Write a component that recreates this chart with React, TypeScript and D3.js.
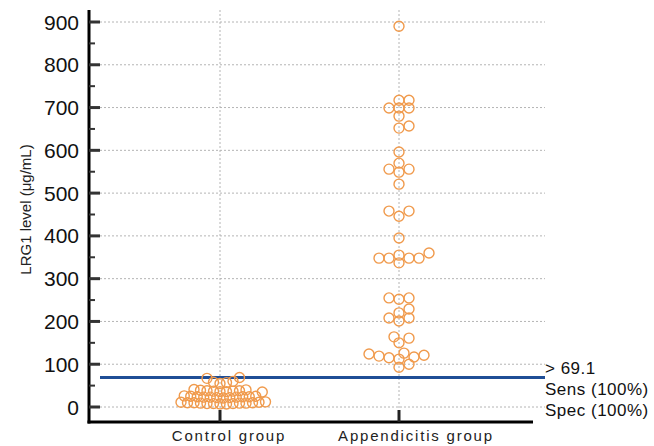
import React from 'react'
import * as d3 from 'd3'

const categories = ['Control group', 'Appendicitis group']

// LRG1 level (µg/mL)
const controlValues = [
  7, 7, 8, 8, 8, 9, 9, 9, 10, 10, 10, 11, 11, 12,
  21, 22, 22, 23, 23, 23, 24, 24, 24, 25, 25, 26,
  35, 36, 36, 37, 37, 38, 38, 39, 40, 41,
  55, 57, 58, 60, 67, 69,
]

const appendicitisValues = [
  93, 100, 112, 115, 117, 119, 121, 124, 126, 150, 161, 164,
  201, 208, 208, 220, 229, 252, 255, 255,
  337, 348, 348, 348, 348, 355, 360, 395, 446, 458, 458,
  521, 549, 556, 556, 570, 596, 652, 657, 680, 699, 699, 699, 717, 717, 890,
]

const yTicks = [0, 100, 200, 300, 400, 500, 600, 700, 800, 900]
const yMinorTicks = [50, 150, 250, 350, 450, 550, 650, 750, 850]

const cutoff = 69.1
const cutoffLabels = ['> 69.1', 'Sens (100%)', 'Spec (100%)']

const W = 654
const H = 446

// simple beeswarm: each point goes as close to the category centre as it can,
// trying offsets in steps of `step` px
function dodge(values: number[], cx: number, y: (v: number) => number, minDist: number, step: number) {
  const pts = values.map(v => ({ v, x: cx, y: y(v) })).sort((a, b) => a.v - b.v)
  const placed: { x: number; y: number }[] = []
  for (const p of pts) {
    for (let k = 0; k < 200; k++) {
      const off = k === 0 ? 0 : (k % 2 === 1 ? 1 : -1) * Math.ceil(k / 2) * step
      const x = cx + off
      const hit = placed.some(q => (q.x - x) ** 2 + (q.y - p.y) ** 2 < minDist * minDist - 0.01)
      if (!hit) {
        p.x = x
        break
      }
    }
    placed.push(p)
  }
  return pts
}

export default function App() {
  const left = 89
  const right = 545
  const bottom = 422
  const top = 10

  const y = d3.scaleLinear().domain([0, 900]).range([407, 22])
  const x = d3.scalePoint<string>().domain(categories).range([220, 399])

  const groups = [
    dodge(controlValues, x(categories[0])!, y, 6.5, 3.25),
    dodge(appendicitisValues, x(categories[1])!, y, 7.5, 5),
  ]

  const font = 'Arial, "Liberation Sans", sans-serif'

  return (
    <svg width={W} height={H} style={{ position: 'absolute', left: 0, top: 0, background: '#fff' }}>
      {/* horizontal grid */}
      {yTicks.map(t => (
        <line key={'g' + t} x1={left + 11} x2={right} y1={y(t)} y2={y(t)} stroke="#b4b4b4" strokeWidth={1} strokeDasharray="2,2" />
      ))}
      {/* vertical grid */}
      {categories.map(c => (
        <line key={'v' + c} x1={x(c)} x2={x(c)} y1={top} y2={bottom - 12} stroke="#b4b4b4" strokeWidth={1} strokeDasharray="2,2" />
      ))}

      {/* cut-off line */}
      <line x1={left + 11} x2={right} y1={y(cutoff)} y2={y(cutoff)} stroke="#1f4e96" strokeWidth={3} />

      {/* points */}
      {groups.map((pts, gi) =>
        pts.map((p, i) => (
          <circle key={gi + '-' + i} cx={p.x} cy={p.y} r={5} fill="none" stroke="#f09a4c" strokeWidth={1.4} />
        ))
      )}

      {/* y axis */}
      <line x1={left} x2={left} y1={top} y2={bottom + 1.5} stroke="#000" strokeWidth={3} />
      {yTicks.map(t => (
        <g key={'t' + t}>
          <line x1={left} x2={left + 11} y1={y(t)} y2={y(t)} stroke="#333" strokeWidth={3} />
          <text x={79} y={y(t)} dy="0.36em" textAnchor="end" fontFamily={font} fontSize={21} fill="#111">
            {t}
          </text>
        </g>
      ))}
      {yMinorTicks.map(t => (
        <line key={'m' + t} x1={left} x2={left + 6} y1={y(t)} y2={y(t)} stroke="#333" strokeWidth={2} />
      ))}
      <text
        transform={`translate(31, ${(y(0) + y(900)) / 2 - 5}) rotate(-90)`}
        textAnchor="middle"
        fontFamily={font}
        fontSize={15}
        fill="#222"
      >
        LRG1 level (μg/mL)
      </text>

      {/* x axis */}
      <line x1={left - 1.5} x2={right - 12} y1={bottom} y2={bottom} stroke="#000" strokeWidth={3} />
      {categories.map(c => (
        <g key={'x' + c}>
          <line x1={x(c)} x2={x(c)} y1={bottom - 12} y2={bottom} stroke="#222" strokeWidth={3} />
          <text x={x(c)! + (c === categories[0] ? 9 : 17)} y={441} textAnchor="middle" fontFamily={font} fontSize={15} letterSpacing={1.8} fill="#222">
            {c}
          </text>
        </g>
      ))}

      {/* cut-off annotation */}
      {cutoffLabels.map((s, i) => (
        <text key={s} x={545} y={374 + i * 21} fontFamily={font} fontSize={17} letterSpacing={0.5} fill="#111">
          {s}
        </text>
      ))}
    </svg>
  )
}
